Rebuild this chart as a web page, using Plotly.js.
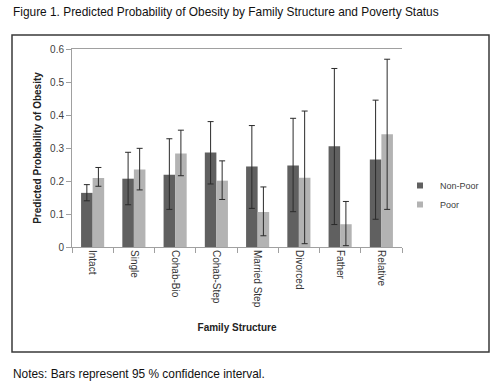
<!DOCTYPE html>
<html>
<head>
<meta charset="utf-8">
<script src="https://cdn.plot.ly/plotly-3.0.1.min.js"></script>
<style>
html,body{margin:0;padding:0;background:#fff;}
#chart{width:502px;height:386px;}
</style>
</head>
<body>
<div id="chart"></div>
<script>
// ---- data ----
const categories = ["Intact","Single","Cohab-Bio","Cohab-Step","Married Step","Divorced","Father","Relative"];
const nonPoor      = [0.164, 0.207, 0.219, 0.286, 0.244, 0.247, 0.305, 0.265];
const nonPoorUpper = [0.189, 0.287, 0.328, 0.380, 0.368, 0.390, 0.541, 0.445];
const nonPoorLower = [0.140, 0.128, 0.114, 0.191, 0.117, 0.107, 0.068, 0.084];
const poor         = [0.209, 0.235, 0.283, 0.201, 0.106, 0.210, 0.069, 0.342];
const poorUpper    = [0.241, 0.299, 0.354, 0.261, 0.182, 0.412, 0.138, 0.569];
const poorLower    = [0.184, 0.173, 0.216, 0.144, 0.034, 0.010, 0.004, 0.114];
const yTicks = [0, 0.1, 0.2, 0.3, 0.4, 0.5, 0.6];

// ---- layout geometry ----
const W = 502, H = 386;
const M = {l:72, r:100, t:49, b:139, autoexpand:false};
const PW = W - M.l - M.r, PH = H - M.t - M.b;
const px2x = p => (p - M.l) / PW;
const px2y = p => (H - M.b - p) / PH;

const FONT = "Liberation Sans, Arial, sans-serif";
const errCol = "#2a2a2a";

function err(vals, up, lo){
  return {type:"data", symmetric:false,
    array: up.map((u,i)=>u-vals[i]),
    arrayminus: vals.map((v,i)=>v-lo[i]),
    color: errCol, thickness: 1, width: 3, visible:true};
}

const traces = [
  {type:"bar", name:"Non-Poor", x:categories, y:nonPoor, marker:{color:"#606060"},
   error_y: err(nonPoor, nonPoorUpper, nonPoorLower), showlegend:false, hoverinfo:"y"},
  {type:"bar", name:"Poor", x:categories, y:poor, marker:{color:"#b3b3b3"},
   error_y: err(poor, poorUpper, poorLower), showlegend:false, hoverinfo:"y"},
  {type:"scatter", mode:"markers", name:"Non-Poor", x:[null], y:[null],
   marker:{symbol:"square", size:6, color:"#606060"}, showlegend:true},
  {type:"scatter", mode:"markers", name:"Poor", x:[null], y:[null],
   marker:{symbol:"square", size:6, color:"#b3b3b3"}, showlegend:true}
];

const layout = {
  width: W, height: H,
  margin: M,
  paper_bgcolor: "#fff", plot_bgcolor: "#fff",
  barmode: "group", bargap: 0.44, bargroupgap: 0,
  font: {family: FONT, size: 10, color: "#404040"},
  xaxis: {
    type:"category", showline:true, linecolor:"#a0a0a0", linewidth:1, mirror:true,
    ticks:"outside", tickson:"boundaries", ticklen:5, tickcolor:"#a0a0a0",
    tickangle: 90, showgrid:false, zeroline:false, automargin:false,
    tickfont:{family:FONT, size:10, color:"#333"},
    title:{text:"Family Structure", font:{family:FONT, size:10, color:"#222", weight:"bold"}, standoff: 17}
  },
  yaxis: {
    range:[0,0.6], tickvals: yTicks, ticktext: yTicks.map(v=>String(v)),
    showline:true, linecolor:"#a0a0a0", linewidth:1,
    ticks:"outside", ticklen:5, tickcolor:"#a0a0a0",
    showgrid:false, zeroline:false, automargin:false,
    tickfont:{family:FONT, size:10, color:"#404040"},
    title:{text:"Predicted Probability of Obesity", font:{family:FONT, size:10, color:"#222", weight:"bold"}, standoff: 6}
  },
  legend: {
    x: px2x(400), y: px2y(171), xanchor:"left", yanchor:"top",
    font:{family:FONT, size:9, color:"#404040"},
    bgcolor:"rgba(0,0,0,0)", itemwidth:30, tracegroupgap:0
  },
  shapes: [
    {type:"rect", xref:"paper", yref:"paper",
     x0: px2x(12), x1: px2x(489), y0: px2y(352), y1: px2y(35),
     line:{color:"#3a3a3a", width:1.5}, fillcolor:"rgba(0,0,0,0)", layer:"below"}
  ],
  annotations: [
    {xref:"paper", yref:"paper", x: px2x(11), y: px2y(12), xanchor:"left", yanchor:"middle",
     text:"Figure 1. Predicted Probability of Obesity by Family Structure and Poverty Status",
     showarrow:false, font:{family:FONT, size:11.9, color:"#111"}},
    {xref:"paper", yref:"paper", x: px2x(11), y: px2y(374), xanchor:"left", yanchor:"middle",
     text:"Notes: Bars represent 95 % confidence interval.",
     showarrow:false, font:{family:FONT, size:11.9, color:"#111"}}
  ]
};

Plotly.newPlot("chart", traces, layout, {staticPlot:true, displayModeBar:false});
</script>
</body>
</html>
